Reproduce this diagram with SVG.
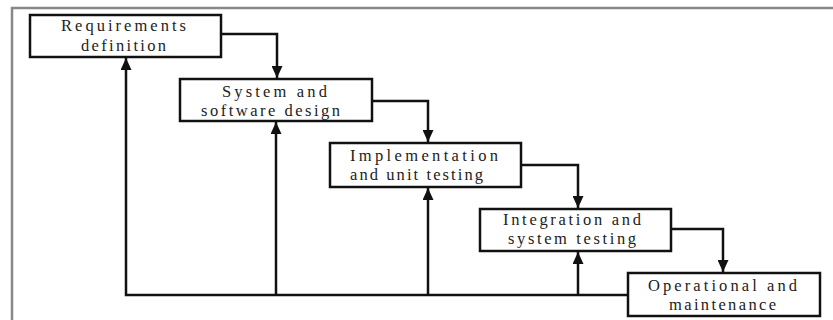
<svg xmlns="http://www.w3.org/2000/svg" width="833" height="320" viewBox="0 0 833 320">
<style>
.box{fill:#fff;stroke:#111;stroke-width:2.5}
.lbl{font-family:"Liberation Serif","Times New Roman",serif;font-size:16.5px;fill:#222;text-anchor:middle}
.con{fill:none;stroke:#111;stroke-width:2.5}
.frame{fill:none;stroke:#888;stroke-width:2.5}
</style>
<defs>
<marker id="ah" markerUnits="userSpaceOnUse" markerWidth="12" markerHeight="11" refX="12" refY="5.5" orient="auto" viewBox="0 0 12 11">
<path d="M0,0 L12,5.5 L0,11 z" fill="#111"/>
</marker>
</defs>
<rect width="833" height="320" fill="#fff"/>
<path class="frame" d="M12,320 V8 H833"/>
<g id="connectors">
<path class="con" d="M221,34 H277 V78" marker-end="url(#ah)"/>
<path class="con" d="M372,101 H428 V142" marker-end="url(#ah)"/>
<path class="con" d="M521,165 H578 V208" marker-end="url(#ah)"/>
<path class="con" d="M671,229 H723 V272" marker-end="url(#ah)"/>
<path class="con" d="M628,295 H126 V58" marker-end="url(#ah)"/>
<path class="con" d="M276,295 V122" marker-end="url(#ah)"/>
<path class="con" d="M428,295 V188" marker-end="url(#ah)"/>
<path class="con" d="M578,295 V252" marker-end="url(#ah)"/>
</g>
<g id="requirements">
<rect class="box" x="30" y="15" width="191" height="42"/>
<text class="lbl" x="123.5" y="31" textLength="125" lengthAdjust="spacing">Requirements</text>
<text class="lbl" x="123.5" y="51" textLength="85" lengthAdjust="spacing">definition</text>
</g>
<g id="design">
<rect class="box" x="180" y="79" width="192" height="42"/>
<text class="lbl" x="274.5" y="97" textLength="105" lengthAdjust="spacing">System and</text>
<text class="lbl" x="270.5" y="115.5" textLength="139" lengthAdjust="spacing">software design</text>
</g>
<g id="implementation">
<rect class="box" x="330" y="143" width="191" height="44"/>
<text class="lbl" x="424" y="161" textLength="148" lengthAdjust="spacing">Implementation</text>
<text class="lbl" x="416.5" y="179.5" textLength="133" lengthAdjust="spacing">and unit testing</text>
</g>
<g id="integration">
<rect class="box" x="480" y="209" width="191" height="42"/>
<text class="lbl" x="572" y="225" textLength="138" lengthAdjust="spacing">Integration and</text>
<text class="lbl" x="572" y="243.5" textLength="128" lengthAdjust="spacing">system testing</text>
</g>
<g id="operation">
<rect class="box" x="628" y="273" width="192" height="43"/>
<text class="lbl" x="722.5" y="291" textLength="149" lengthAdjust="spacing">Operational and</text>
<text class="lbl" x="722.5" y="309.5" textLength="107" lengthAdjust="spacing">maintenance</text>
</g>
</svg>
